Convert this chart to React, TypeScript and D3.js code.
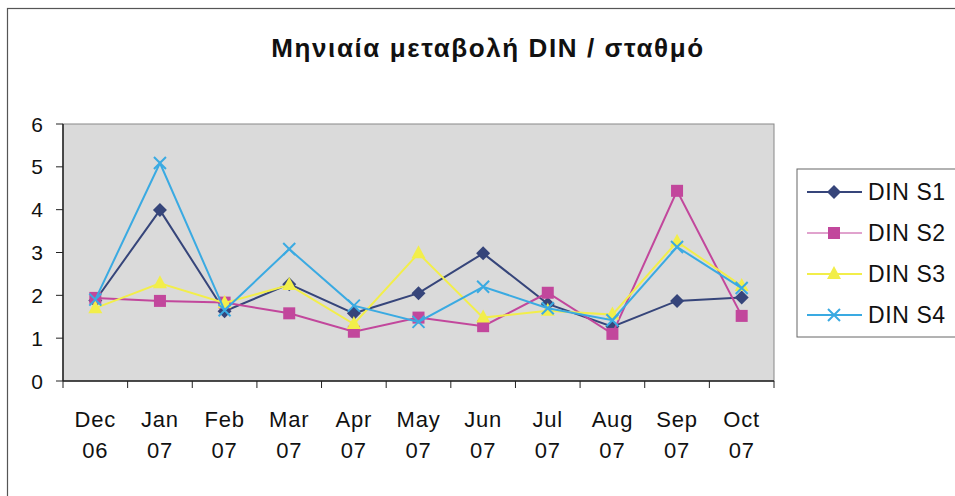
import * as d3 from 'd3';

const months = ['Dec', 'Jan', 'Feb', 'Mar', 'Apr', 'May', 'Jun', 'Jul', 'Aug', 'Sep', 'Oct'];
const years = ['06', '07', '07', '07', '07', '07', '07', '07', '07', '07', '07'];

const s1 = [1.88, 3.99, 1.63, 2.26, 1.58, 2.05, 2.98, 1.8, 1.27, 1.87, 1.95];
const s2 = [1.94, 1.87, 1.83, 1.58, 1.15, 1.48, 1.28, 2.06, 1.1, 4.44, 1.52];
const s3 = [1.7, 2.28, 1.82, 2.24, 1.33, 2.98, 1.48, 1.64, 1.55, 3.25, 2.22];
const s4 = [1.9, 5.09, 1.65, 3.08, 1.76, 1.38, 2.2, 1.7, 1.42, 3.13, 2.17];

const seriesNames = ['DIN S1', 'DIN S2', 'DIN S3', 'DIN S4'];
const seriesColors = ['#36457a', '#c2479c', '#f2ee4a', '#3aaae2'];
const seriesValues = [s1, s2, s3, s4];
const yTicks = [0, 1, 2, 3, 4, 5, 6];

const plot = { left: 63, top: 124, right: 774, bottom: 381 };
const font = 'Arial, "Liberation Sans", sans-serif';

function Marker({ kind, x, y, color }: { kind: number; x: number; y: number; color: string }) {
  if (kind === 0) {
    const r = 7;
    return <path d={`M${x},${y - r}L${x + r},${y}L${x},${y + r}L${x - r},${y}Z`} fill={color} />;
  }
  if (kind === 1) {
    return <rect x={x - 6} y={y - 6} width={12} height={12} fill={color} />;
  }
  if (kind === 2) {
    return <path d={`M${x},${y - 8}L${x + 7},${y + 5}L${x - 7},${y + 5}Z`} fill={color} />;
  }
  return (
    <path d={`M${x - 6},${y - 6}L${x + 6},${y + 6}M${x + 6},${y - 6}L${x - 6},${y + 6}`} stroke={color} strokeWidth={2} fill="none" />
  );
}

export default function App() {
  const x = d3.scaleBand<string>().domain(months).range([plot.left, plot.right]);
  const y = d3.scaleLinear().domain([0, 6]).range([plot.bottom, plot.top]);
  const cx = (m: string) => (x(m) ?? 0) + x.bandwidth() / 2;

  const line = d3.line<number>()
    .x((_, i) => cx(months[i]))
    .y(d => y(d));

  const xTickPos = months.map(m => x(m) ?? 0).concat([plot.right]);

  return (
    <svg width={955} height={496} style={{ position: 'absolute', left: 0, top: 0, background: '#fff' }}>
      <rect x={7.5} y={8.5} width={960} height={500} fill="#fff" stroke="#555" strokeWidth={1.2} />
      <text x={488} y={57} textAnchor="middle" fontFamily={font} fontSize={26} fontWeight="bold" letterSpacing={1.6} fill="#111">
        Μηνιαία μεταβολή DIN / σταθμό
      </text>

      <rect x={plot.left} y={plot.top} width={plot.right - plot.left} height={plot.bottom - plot.top} fill="#dadada" stroke="#888" strokeWidth={1} />

      {/* y axis */}
      <line x1={plot.left} x2={plot.left} y1={plot.top} y2={plot.bottom} stroke="#222" strokeWidth={1.5} />
      {yTicks.map(t => (
        <g key={t}>
          <line x1={plot.left - 7} x2={plot.left} y1={y(t)} y2={y(t)} stroke="#222" />
          <text x={37} y={y(t) + 7.5} textAnchor="middle" fontFamily={font} fontSize={21} fill="#111">{t}</text>
        </g>
      ))}

      {/* x axis */}
      <line x1={plot.left} x2={plot.right} y1={plot.bottom} y2={plot.bottom} stroke="#222" strokeWidth={1.5} />
      {xTickPos.map((p, i) => (
        <line key={i} x1={p} x2={p} y1={plot.bottom} y2={plot.bottom + 7} stroke="#222" />
      ))}
      {months.map((m, i) => (
        <g key={m} fontFamily={font} fontSize={22} fill="#111" textAnchor="middle" letterSpacing={0.8}>
          <text x={cx(m)} y={427}>{m}</text>
          <text x={cx(m)} y={458}>{years[i]}</text>
        </g>
      ))}

      {seriesValues.map((vals, si) => (
        <g key={si}>
          <path d={line(vals) ?? ''} fill="none" stroke={seriesColors[si]} strokeWidth={2} />
          {vals.map((v, i) => (
            <Marker key={i} kind={si} x={cx(months[i])} y={y(v)} color={seriesColors[si]} />
          ))}
        </g>
      ))}

      {/* legend */}
      <rect x={797} y={169} width={170} height={168} fill="#fff" stroke="#666" strokeWidth={1} />
      {seriesNames.map((n, i) => {
        const ly = 192 + i * 41;
        return (
          <g key={n}>
            <line x1={807} x2={862} y1={ly} y2={ly} stroke={seriesColors[i]} strokeWidth={i === 1 ? 1 : 2} />
            <Marker kind={i} x={834} y={ly} color={seriesColors[i]} />
            <text x={868} y={ly + 8} fontFamily={font} fontSize={23} letterSpacing={0.6} fill="#111">{n}</text>
          </g>
        );
      })}
    </svg>
  );
}
